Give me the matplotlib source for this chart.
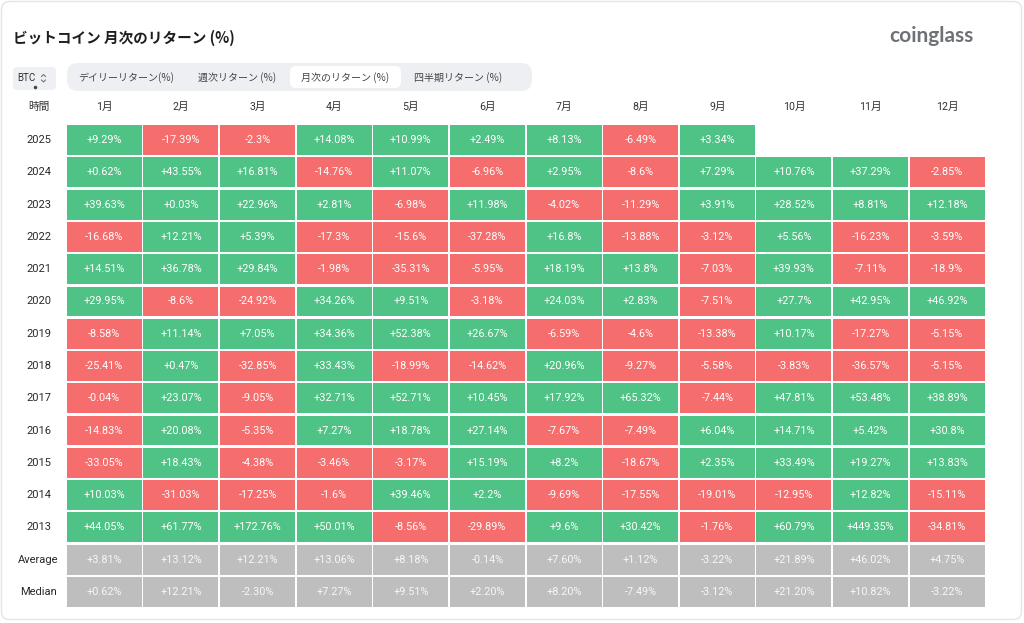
import numpy as np
import matplotlib
matplotlib.use("Agg")
import matplotlib.pyplot as plt
from matplotlib.patches import FancyBboxPatch

plt.rcParams['font.family'] = ['Roboto', 'Noto Sans CJK JP', 'DejaVu Sans']

# ---------------- data ----------------
months = ["1月", "2月", "3月", "4月", "5月", "6月", "7月", "8月", "9月", "10月", "11月", "12月"]
years = ["2025", "2024", "2023", "2022", "2021", "2020", "2019", "2018",
         "2017", "2016", "2015", "2014", "2013"]
nan = np.nan
r2025 = [9.29, -17.39, -2.3, 14.08, 10.99, 2.49, 8.13, -6.49, 3.34, nan, nan, nan]
r2024 = [0.62, 43.55, 16.81, -14.76, 11.07, -6.96, 2.95, -8.6, 7.29, 10.76, 37.29, -2.85]
r2023 = [39.63, 0.03, 22.96, 2.81, -6.98, 11.98, -4.02, -11.29, 3.91, 28.52, 8.81, 12.18]
r2022 = [-16.68, 12.21, 5.39, -17.3, -15.6, -37.28, 16.8, -13.88, -3.12, 5.56, -16.23, -3.59]
r2021 = [14.51, 36.78, 29.84, -1.98, -35.31, -5.95, 18.19, 13.8, -7.03, 39.93, -7.11, -18.9]
r2020 = [29.95, -8.6, -24.92, 34.26, 9.51, -3.18, 24.03, 2.83, -7.51, 27.7, 42.95, 46.92]
r2019 = [-8.58, 11.14, 7.05, 34.36, 52.38, 26.67, -6.59, -4.6, -13.38, 10.17, -17.27, -5.15]
r2018 = [-25.41, 0.47, -32.85, 33.43, -18.99, -14.62, 20.96, -9.27, -5.58, -3.83, -36.57, -5.15]
r2017 = [-0.04, 23.07, -9.05, 32.71, 52.71, 10.45, 17.92, 65.32, -7.44, 47.81, 53.48, 38.89]
r2016 = [-14.83, 20.08, -5.35, 7.27, 18.78, 27.14, -7.67, -7.49, 6.04, 14.71, 5.42, 30.8]
r2015 = [-33.05, 18.43, -4.38, -3.46, -3.17, 15.19, 8.2, -18.67, 2.35, 33.49, 19.27, 13.83]
r2014 = [10.03, -31.03, -17.25, -1.6, 39.46, 2.2, -9.69, -17.55, -19.01, -12.95, 12.82, -15.11]
r2013 = [44.05, 61.77, 172.76, 50.01, -8.56, -29.89, 9.6, 30.42, -1.76, 60.79, 449.35, -34.81]
average = [3.81, 13.12, 12.21, 13.06, 8.18, -0.14, 7.60, 1.12, -3.22, 21.89, 46.02, 4.75]
median = [0.62, 12.21, -2.30, 7.27, 9.51, 2.20, 8.20, -7.49, -3.12, 21.20, 10.82, -3.22]

year_rows = [r2025, r2024, r2023, r2022, r2021, r2020, r2019, r2018,
             r2017, r2016, r2015, r2014, r2013]
stat_labels = ["Average", "Median"]
stat_rows = [average, median]

GREEN = "#4FC286"
RED = "#F56D6D"
GRAY = "#BEBEBE"

W, H = 1024, 623
fig = plt.figure(figsize=(W / 100, H / 100), dpi=100)
fig.patch.set_facecolor("white")

# background / decoration axes in pixel coords
bg = fig.add_axes([0, 0, 1, 1])
bg.set_xlim(0, W)
bg.set_ylim(H, 0)
bg.axis("off")

bg.add_patch(FancyBboxPatch((1.5, 1.5), W - 4, H - 5, boxstyle="round,pad=0,rounding_size=8",
                            fc="white", ec="#E3E5E8", lw=1.0))
bg.text(13, 38, "ビットコイン 月次のリターン (%)", fontsize=10.5, fontweight="bold",
        color="#1E1E1E", va="center", ha="left", family=['Noto Sans CJK JP', 'DejaVu Sans'])
bg.text(931, 36, "coinglass", fontsize=15, fontweight="bold", color="#6E7175",
        va="center", ha="center", family=['Lato', 'DejaVu Sans'])

# BTC selector
bg.add_patch(FancyBboxPatch((13, 67), 43, 23, boxstyle="round,pad=0,rounding_size=4",
                            fc="#EEF0F3", ec="none"))
bg.text(17, 78, "BTC", fontsize=7, color="#333333", va="center", ha="left")
bg.plot([41.5, 43.5, 45.5], [76.5, 74.5, 76.5], color="#666666", lw=0.7)
bg.plot([41.5, 43.5, 45.5], [80, 82, 80], color="#666666", lw=0.7)
bg.plot([35], [87], marker="o", ms=1.5, color="#444444")

# tab bar
bg.add_patch(FancyBboxPatch((67, 63), 465, 28, boxstyle="round,pad=0,rounding_size=11",
                            fc="#EDEFF2", ec="none"))
bg.add_patch(FancyBboxPatch((290, 66), 111, 22, boxstyle="round,pad=0,rounding_size=6",
                            fc="white", ec="none"))
tabs = ["デイリーリターン(%)", "週次リターン (%)", "月次のリターン (%)", "四半期リターン (%)"]
tab_x = [126, 237, 345, 458]
for t, x in zip(tabs, tab_x):
    bg.text(x, 78, t, fontsize=7.2, color="#444444", va="center", ha="center",
            family=['Noto Sans CJK JP', 'DejaVu Sans'])

# ---------------- table axes ----------------
left_px, right_px, top_px, bot_px = 66, 985.5, 124, 608
ax = fig.add_axes([left_px / W, 1 - bot_px / H, (right_px - left_px) / W, (bot_px - top_px) / H])
ncol = len(months)
row_labels = years + stat_labels
all_rows = year_rows + stat_rows
nrow = len(all_rows)
ax.set_xlim(-0.5, ncol - 0.5)
ax.set_ylim(nrow - 0.5, -0.5)
ax.axis("off")

cols = np.arange(ncol)
for i, (lab, vals) in enumerate(zip(row_labels, all_rows)):
    vals = np.array(vals, dtype=float)
    is_stat = lab in stat_labels
    ok = ~np.isnan(vals)
    colors = [GRAY if is_stat else (GREEN if v >= 0 else RED) for v in vals[ok]]
    ax.bar(cols[ok], 0.925, bottom=i - 0.4625, width=0.98, color=colors, linewidth=0)
    for j in cols[ok]:
        v = vals[j]
        txt = (f"{v:+.2f}%" if is_stat else f"{'+' if v >= 0 else '-'}{abs(v):g}%")
        ax.text(j, i, txt, ha="center", va="center", fontsize=7.8,
                color="white" if not is_stat else "#F7F7F7")

# row labels
lab_tr = matplotlib.transforms.blended_transform_factory(bg.transData, ax.transData)
for i, lab in enumerate(row_labels):
    ax.text(38.5, i, lab, transform=lab_tr, ha="center", va="center",
            fontsize=8, color="#2A2A2A")

# header row
ax.text(38.5, -1.02, "時間", transform=lab_tr, ha="center", va="center",
        fontsize=7.7, color="#333333", clip_on=False,
        family=['Noto Sans CJK JP', 'DejaVu Sans'])
for j, m in enumerate(months):
    ax.text(j, -1.02, m, ha="center", va="center", fontsize=7.7, color="#333333",
            clip_on=False, family=['Roboto', 'Noto Sans CJK JP', 'DejaVu Sans'])

fig.savefig("out.png", dpi=100, facecolor="white")
